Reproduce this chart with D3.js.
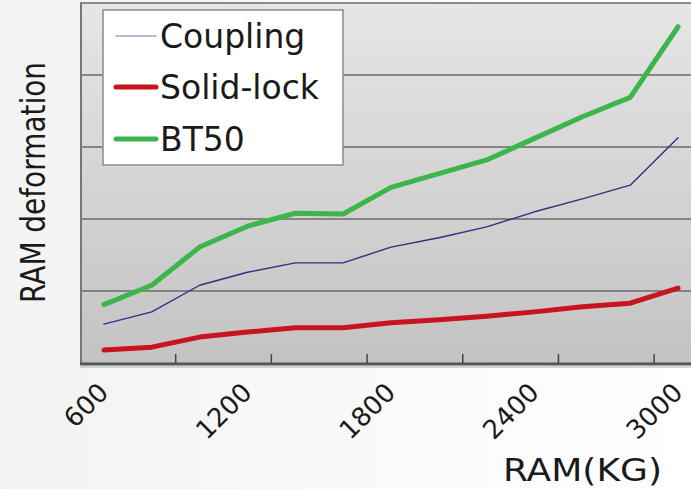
<!DOCTYPE html>
<html>
<head>
    <meta charset="utf-8">
    <title>RAM deformation</title>
    <script src="https://cdn.jsdelivr.net/npm/d3@7"></script>
    <style>
        body { margin: 0; background: #fff; }
        text { font-family: 'DejaVu Sans', Verdana, sans-serif; fill: #1a1a1a; }
    </style>
</head>
<body>
    <svg width="691" height="489" id="mainsvg"></svg>
    <script>
        // RAM load (kg), one point every 200 kg
        const loads = [600, 800, 1000, 1200, 1400, 1600, 1800, 2000, 2200, 2400, 2600, 2800, 3000];
        // deformation, read in gridline units (no y labels on the original)
        const coupling = [0.54, 0.71, 1.08, 1.26, 1.39, 1.39, 1.61, 1.74, 1.89, 2.10, 2.28, 2.47, 3.13];
        const solidLock = [0.18, 0.22, 0.36, 0.43, 0.49, 0.49, 0.56, 0.60, 0.65, 0.71, 0.78, 0.83, 1.04];
        const bt50 = [0.81, 1.08, 1.61, 1.90, 2.08, 2.07, 2.44, 2.63, 2.82, 3.12, 3.42, 3.69, 4.67];
        const labelLoads = [600, 1200, 1800, 2400, 3000];
        const tickLoads = [1000, 1400, 1800, 2200, 2600, 3000];
        const gridValues = [1, 2, 3, 4, 5];

        const series = [
            { name: 'Coupling', values: coupling, color: '#2e3180', width: 1.4 },
            { name: 'Solid-lock', values: solidLock, color: '#c8141e', width: 5 },
            { name: 'BT50', values: bt50, color: '#3cb64a', width: 5 }
        ];

        const svg = d3.select('svg');
        const defs = svg.append('defs');
        const bg = defs.append('linearGradient').attr('id', 'pagebg')
            .attr('x1', 0).attr('y1', 0).attr('x2', 1).attr('y2', 0);
        bg.append('stop').attr('offset', '0%').attr('stop-color', '#f3f3f3');
        bg.append('stop').attr('offset', '100%').attr('stop-color', '#ffffff');
        const plotbg = defs.append('linearGradient').attr('id', 'plotbg')
            .attr('x1', 0).attr('y1', 0).attr('x2', 0).attr('y2', 1);
        plotbg.append('stop').attr('offset', '0%').attr('stop-color', '#e6e6e6');
        plotbg.append('stop').attr('offset', '100%').attr('stop-color', '#c3c3c3');

        svg.append('rect').attr('width', 691).attr('height', 489).attr('fill', 'url(#pagebg)');

        const x = d3.scaleBand().domain(loads).range([80, 702]).padding(0);
        const y = d3.scaleLinear().domain([0, 5]).range([363, 3]);
        const cx = d => x(d) + x.bandwidth() / 2;

        // plot area
        svg.append('rect')
            .attr('x', x.range()[0]).attr('y', y(5))
            .attr('width', x.range()[1] - x.range()[0]).attr('height', y(0) - y(5))
            .attr('fill', 'url(#plotbg)');

        svg.append('g').selectAll('line').data(gridValues).join('line')
            .attr('x1', x.range()[0]).attr('x2', x.range()[1])
            .attr('y1', d => y(d)).attr('y2', d => y(d))
            .attr('stroke', '#6a6a6a').attr('stroke-width', 1.6);

        // left border
        svg.append('line')
            .attr('x1', 81).attr('x2', 81).attr('y1', y(5)).attr('y2', y(0))
            .attr('stroke', '#777').attr('stroke-width', 2);

        // bottom axis + inward ticks
        svg.append('line')
            .attr('x1', 80).attr('x2', 691).attr('y1', y(0) + 1).attr('y2', y(0) + 1)
            .attr('stroke', '#555').attr('stroke-width', 3);
        svg.append('line')
            .attr('x1', 80).attr('x2', 691).attr('y1', y(0) + 4).attr('y2', y(0) + 4)
            .attr('stroke', '#bbb').attr('stroke-width', 2).attr('opacity', 0.6);
        svg.append('g').selectAll('line').data(tickLoads).join('line')
            .attr('x1', d => x(d)).attr('x2', d => x(d))
            .attr('y1', y(0)).attr('y2', y(0) - 9)
            .attr('stroke', '#444').attr('stroke-width', 1.5);

        // series
        const line = d3.line().x((d, i) => cx(loads[i])).y(d => y(d));
        svg.append('g').selectAll('path').data(series).join('path')
            .attr('d', d => line(d.values))
            .attr('fill', 'none')
            .attr('stroke', d => d.color)
            .attr('stroke-width', d => d.width)
            .attr('stroke-linejoin', 'round')
            .attr('stroke-linecap', 'round');

        // x labels
        svg.append('g').selectAll('text').data(labelLoads).join('text')
            .attr('transform', d => `translate(${cx(d) + 6}, 394) rotate(-45)`)
            .attr('text-anchor', 'end')
            .attr('font-size', 26)
            .text(d => d);

        svg.append('text')
            .attr('x', 503).attr('y', 481)
            .attr('font-size', 32)
            .attr('textLength', 159).attr('lengthAdjust', 'spacingAndGlyphs')
            .text('RAM(KG)');

        svg.append('text')
            .attr('transform', 'translate(45, 303) rotate(-90)')
            .attr('font-size', 33)
            .attr('textLength', 241).attr('lengthAdjust', 'spacingAndGlyphs')
            .text('RAM deformation');

        // legend
        const legend = svg.append('g');
        legend.append('rect')
            .attr('x', 103).attr('y', 10).attr('width', 240).attr('height', 155)
            .attr('fill', '#fff').attr('stroke', '#8a8a8a').attr('stroke-width', 1.5);
        const rows = legend.selectAll('g').data(series).join('g')
            .attr('transform', (d, i) => `translate(0, ${[36, 87, 139][i]})`);
        rows.append('line')
            .attr('x1', 116).attr('x2', 156).attr('y1', 0).attr('y2', 0)
            .attr('stroke', d => d.name === 'Coupling' ? '#9da3c8' : d.color)
            .attr('stroke-width', d => d.name === 'Coupling' ? 1.3 : d.width)
            .attr('stroke-linecap', 'round');
        rows.append('text')
            .attr('x', 160).attr('y', 12)
            .attr('font-size', 33)
            .text(d => d.name);
    </script>
</body>
</html>
